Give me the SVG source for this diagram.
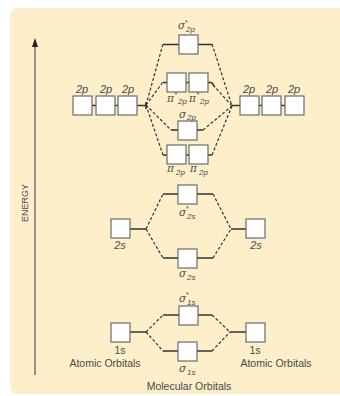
<svg xmlns="http://www.w3.org/2000/svg" width="340" height="396" viewBox="0 0 340 396">
<style>
.box{fill:#ffffff;stroke:#6a6a6a;stroke-width:1.2}
.ln{stroke:#333;stroke-width:1.5;fill:none}
.ds{stroke:#333;stroke-width:1.2;fill:none;stroke-dasharray:3 2}
.t{font-family:"Liberation Sans",Arial,sans-serif;fill:#4a4a4a}
.it{font-style:italic;font-size:11px}
.g{font-family:"DejaVu Serif","Liberation Serif",serif;font-style:italic;font-size:10.5px;fill:#4a4a4a}
.sub{font-family:"Liberation Sans",Arial,sans-serif;font-style:italic;font-size:8px}
.st{font-family:"Liberation Sans",Arial,sans-serif;font-style:normal;font-size:7px}
.lab{font-size:10.5px}
</style>
<rect width="340" height="396" fill="#ffffff"/>
<rect x="10" y="8" width="340" height="386" rx="8" fill="#fdefc9"/>

<g id="energy-axis">
<line x1="35" y1="375" x2="35" y2="46" stroke="#7a7a7a" stroke-width="1.6"/>
<polygon points="35,38 32,47 38,47" fill="#222"/>
<text class="t" x="0" y="0" font-size="9" text-anchor="middle" transform="translate(28,203) rotate(-90)">ENERGY</text>
</g>

<g id="connectors">
<path class="ds" d="M146,105 L163,44"/>
<path class="ds" d="M146,105 L163,82"/>
<path class="ds" d="M146,105 L171,130"/>
<path class="ds" d="M146,105 L163,155"/>
<path class="ds" d="M212,44 L232,106"/>
<path class="ds" d="M213,85 L232,106"/>
<path class="ds" d="M203,130 L232,106"/>
<path class="ds" d="M212,155 L232,106"/>
<path class="ds" d="M146,229 L163,194"/>
<path class="ds" d="M146,229 L163,258"/>
<path class="ds" d="M213,194 L231,229"/>
<path class="ds" d="M213,258 L231,229"/>
<path class="ds" d="M146,332 L163,315"/>
<path class="ds" d="M146,332 L163,351"/>
<path class="ds" d="M212,315 L230,332"/>
<path class="ds" d="M212,351 L230,332"/>
</g>

<g id="atomic-2p-left">
<path class="ln" d="M92,105.5 H96 M115,105.5 H118 M137,105.5 H146 M146,102 V109"/>
<rect class="box" x="73" y="96" width="19" height="19"/>
<rect class="box" x="96" y="96" width="19" height="19"/>
<rect class="box" x="118" y="96" width="19" height="19"/>
<text class="t it" x="82" y="93" text-anchor="middle">2p</text>
<text class="t it" x="106" y="93" text-anchor="middle">2p</text>
<text class="t it" x="128" y="93" text-anchor="middle">2p</text>
</g>

<g id="atomic-2p-right">
<path class="ln" d="M232,105.5 H240 M259,105.5 H262 M281,105.5 H285"/>
<rect class="box" x="240" y="96" width="19" height="19"/>
<rect class="box" x="262" y="96" width="19" height="19"/>
<rect class="box" x="285" y="96" width="19" height="19"/>
<text class="t it" x="249" y="93" text-anchor="middle">2p</text>
<text class="t it" x="272" y="93" text-anchor="middle">2p</text>
<text class="t it" x="294" y="93" text-anchor="middle">2p</text>
</g>

<g id="sigma-star-2p">
<path class="ln" d="M163,44.5 H179 M198,44.5 H212"/>
<rect class="box" x="179" y="35" width="19" height="19"/>
<text class="g" x="178" y="29">σ<tspan class="st" x="185" y="25">*</tspan><tspan class="sub" x="186" y="32">2p</tspan></text>
</g>

<g id="pi-star-2p">
<path class="ln" d="M163,82.5 H167 M186,82.5 H189 M208,82.5 H211 Q213,83 214,86"/>
<rect class="box" x="167" y="73" width="19" height="19"/>
<rect class="box" x="189" y="73" width="19" height="19"/>
<text class="g" x="167" y="102">π<tspan class="st" x="174.5" y="97">*</tspan><tspan class="sub" x="178" y="104">2p</tspan></text>
<text class="g" x="189" y="102">π<tspan class="st" x="196.5" y="97">*</tspan><tspan class="sub" x="200" y="104">2p</tspan></text>
</g>

<g id="sigma-2p">
<path class="ln" d="M171,130 H178 M197,130 H203"/>
<rect class="box" x="178" y="121" width="19" height="19"/>
<text class="g" x="179" y="118">σ<tspan class="sub" x="187" y="120">2p</tspan></text>
</g>

<g id="pi-2p">
<path class="ln" d="M163,155 H167 M186,155 H189 M208,155 H212"/>
<rect class="box" x="167" y="145" width="19" height="19"/>
<rect class="box" x="189" y="145" width="19" height="19"/>
<text class="g" x="167" y="172">π<tspan class="sub" x="176" y="175">2p</tspan></text>
<text class="g" x="190" y="172">π<tspan class="sub" x="199" y="175">2p</tspan></text>
</g>

<g id="atomic-2s-left">
<path class="ln" d="M130,229 H146"/>
<rect class="box" x="111" y="219" width="19" height="19"/>
<text class="t it" x="120" y="249" text-anchor="middle">2s</text>
</g>

<g id="atomic-2s-right">
<path class="ln" d="M231,229 H246"/>
<rect class="box" x="246" y="219" width="19" height="19"/>
<text class="t it" x="256" y="249" text-anchor="middle">2s</text>
</g>

<g id="sigma-star-2s">
<path class="ln" d="M163,194 H178 M197,194 H213"/>
<rect class="box" x="178" y="185" width="19" height="19"/>
<text class="g" x="179" y="216">σ<tspan class="st" x="186" y="211">*</tspan><tspan class="sub" x="187" y="219">2s</tspan></text>
</g>

<g id="sigma-2s">
<path class="ln" d="M163,258 H178 M197,258 H213"/>
<rect class="box" x="178" y="249" width="19" height="19"/>
<text class="g" x="179" y="277">σ<tspan class="sub" x="187" y="280">2s</tspan></text>
</g>

<g id="atomic-1s-left">
<path class="ln" d="M130,332 H146"/>
<rect class="box" x="111" y="323" width="19" height="19"/>
<text class="t lab" x="120" y="354" text-anchor="middle">1s</text>
<text class="t lab" x="105" y="367" text-anchor="middle">Atomic Orbitals</text>
</g>

<g id="atomic-1s-right">
<path class="ln" d="M230,332 H246"/>
<rect class="box" x="246" y="323" width="19" height="19"/>
<text class="t lab" x="255" y="354" text-anchor="middle">1s</text>
<text class="t lab" x="276" y="367" text-anchor="middle">Atomic Orbitals</text>
</g>

<g id="sigma-star-1s">
<path class="ln" d="M163,315 H179 M198,315 H212"/>
<rect class="box" x="179" y="306" width="19" height="19"/>
<text class="g" x="179" y="302">σ<tspan class="st" x="186" y="297">*</tspan><tspan class="sub" x="187" y="305">1s</tspan></text>
</g>

<g id="sigma-1s">
<path class="ln" d="M163,351 H178 M197,351 H212"/>
<rect class="box" x="178" y="342" width="19" height="19"/>
<text class="g" x="179" y="372">σ<tspan class="sub" x="187" y="375">1s</tspan></text>
</g>

<text class="t lab" x="189" y="390" text-anchor="middle">Molecular Orbitals</text>
</svg>
